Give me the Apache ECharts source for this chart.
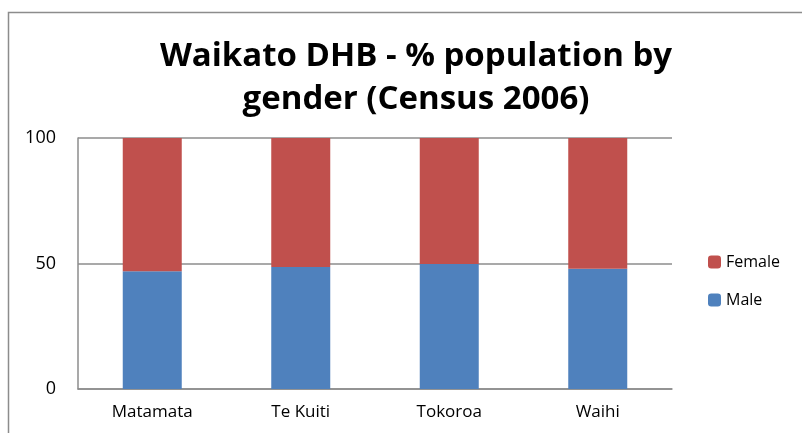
<!DOCTYPE html>
<html>
<head>
<meta charset="utf-8">
<script src="https://cdn.jsdelivr.net/npm/echarts@6/dist/echarts.min.js"></script>
<style>
  html, body { margin: 0; padding: 0; background: #fff; }
  #chart { width: 802px; height: 433px; }
</style>
</head>
<body>
<div id="chart"></div>
<script>
// data
var categories = ['Matamata', 'Te Kuiti', 'Tokoroa', 'Waihi'];
var maleValues = [46.9, 48.6, 49.8, 47.9];
var femaleValues = [53.1, 51.4, 50.2, 52.1];
var yTicks = [0, 50, 100];

var myChart = echarts.init(document.getElementById('chart'));

var option = {
  animation: false,
  backgroundColor: '#fff',
  title: {
    text: 'Waikato DHB - % population by\ngender (Census 2006)',
    left: 411,
    top: 30,
    textAlign: 'center',
    textStyle: {
      fontFamily: 'Open Sans',
      fontWeight: 'bold',
      fontSize: 33,
      lineHeight: 43,
      color: '#000'
    }
  },
  graphic: [{
    type: 'rect',
    shape: { x: 8.5, y: 12.5, width: 900, height: 600 },
    style: { fill: 'none', stroke: '#8c8c8c', lineWidth: 1.5 },
    z: -1
  }],
  legend: {
    data: ['Female', 'Male'],
    orient: 'vertical',
    left: 703,
    top: 249,
    itemWidth: 13,
    itemHeight: 13,
    itemGap: 22,
    textStyle: { fontFamily: 'Open Sans', fontSize: 16, color: '#000' }
  },
  grid: { left: 78, right: 130, top: 138, bottom: 44 },
  xAxis: {
    type: 'category',
    data: categories,
    axisLine: { lineStyle: { color: '#8c8c8c', width: 1.5 } },
    axisTick: { show: false },
    axisLabel: { fontFamily: 'Open Sans', fontSize: 17, color: '#000', margin: 15 }
  },
  yAxis: {
    type: 'value',
    min: yTicks[0],
    max: yTicks[yTicks.length - 1],
    interval: 50,
    axisLine: { show: true, lineStyle: { color: '#8c8c8c', width: 1.5 } },
    axisTick: { show: false },
    splitLine: { lineStyle: { color: '#8c8c8c', width: 1.5 } },
    axisLabel: { fontFamily: 'Open Sans', fontSize: 18, color: '#000', margin: 22 }
  },
  series: [{
    name: 'Male',
    type: 'bar',
    stack: 'g',
    barWidth: 59,
    itemStyle: { color: '#4f81bd' },
    data: maleValues
  }, {
    name: 'Female',
    type: 'bar',
    stack: 'g',
    barWidth: 59,
    itemStyle: { color: '#c0504d' },
    data: femaleValues
  }]
};
myChart.setOption(option);
</script>
</body>
</html>
